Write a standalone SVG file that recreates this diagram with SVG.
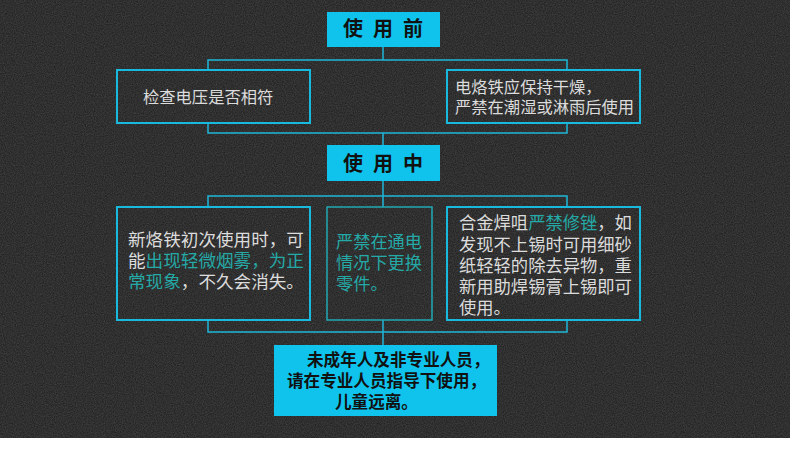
<svg xmlns="http://www.w3.org/2000/svg" width="790" height="449" viewBox="0 0 790 449">
<defs>
<filter id="noise" x="0" y="0" width="100%" height="100%">
<feTurbulence type="fractalNoise" baseFrequency="0.9" numOctaves="2" seed="3" result="t"/>
<feColorMatrix in="t" type="matrix" values="0 0 0 0 0.45  0 0 0 0 0.45  0 0 0 0 0.45  0 0 0 0.3 -0.06"/>
</filter>
<style>
.title{fill:#10c3ec}
.ttxt{font-family:"Noto Sans CJK SC","Noto Sans",sans-serif;font-weight:bold;font-size:20px;letter-spacing:10px;fill:#111}
.box{fill:none;stroke:#18b9dc;stroke-width:2}
.box2{fill:none;stroke:#21a9b4;stroke-width:1.5}
.txt{font-family:"Noto Sans CJK SC","Noto Sans",sans-serif;fill:#dcdcdc}
.hl{fill:#24a9a6}
.btxt{font-family:"Noto Sans CJK SC","Noto Sans",sans-serif;font-size:16.6px;font-weight:bold;fill:#111}
.conn{fill:none;stroke:#1fb6d8;stroke-width:1.5}
</style>
</defs>
<rect x="0" y="0" width="790" height="449" fill="#ffffff"/>
<rect x="0" y="0" width="790" height="438" fill="#232323"/>
<rect x="0" y="0" width="790" height="438" filter="url(#noise)"/>

<g id="connectors">
<path class="conn" d="M383 47V60M208 70V60H567V70"/>
<path class="conn" d="M208 123V133H567V123M383 133V145"/>
<path class="conn" d="M383 181V196M208 207V196H567V207M383 196V207"/>
<path class="conn" d="M208 320V332H567V320M383 320V345"/>
</g>

<g id="before">
<rect class="title" x="327" y="12" width="113" height="35"/>
<text class="ttxt" x="343" y="36">使用前</text>
</g>

<g id="check-voltage">
<rect class="box" x="117" y="70" width="193" height="53"/>
<text class="txt" x="143" y="103" font-size="16.3">检查电压是否相符</text>
</g>

<g id="keep-dry">
<rect class="box" x="447" y="70" width="193" height="53"/>
<text class="txt" font-size="16.3"><tspan x="455" y="93">电烙铁应保持干燥，</tspan><tspan x="455" y="113">严禁在潮湿或淋雨后使用</tspan></text>
</g>

<g id="during">
<rect class="title" x="327" y="145" width="113" height="36"/>
<text class="ttxt" x="343" y="171">使用中</text>
</g>

<g id="smoke">
<rect class="box" x="117" y="207" width="193" height="113"/>
<text class="txt" font-size="17.6"><tspan x="128" y="246">新烙铁初次使用时，可</tspan><tspan x="128" y="267">能<tspan class="hl">出现轻微烟雾，为正</tspan></tspan><tspan x="128" y="288"><tspan class="hl">常现象</tspan>，不久会消失。</tspan></text>
</g>

<g id="no-parts">
<rect class="box2" x="327" y="207" width="105" height="113"/>
<text class="txt hl" font-size="17.2"><tspan x="336" y="248">严禁在通电</tspan><tspan x="336" y="269">情况下更换</tspan><tspan x="336" y="290">零件。</tspan></text>
</g>

<g id="tip">
<rect class="box" x="447" y="207" width="193" height="113"/>
<text class="txt" font-size="17.3"><tspan x="459" y="229">合金焊咀<tspan class="hl">严禁修锉</tspan>，如</tspan><tspan x="459" y="251">发现不上锡时可用细砂</tspan><tspan x="459" y="272">纸轻轻的除去异物，重</tspan><tspan x="459" y="293">新用助焊锡膏上锡即可</tspan><tspan x="459" y="314">使用。</tspan></text>
</g>

<g id="warning">
<rect class="title" x="274" y="345" width="223" height="71"/>
<text class="btxt"><tspan x="307" y="366">未成年人及非专业人员，</tspan><tspan x="287" y="387">请在专业人员指导下使用，</tspan><tspan x="335" y="408">儿童远离。</tspan></text>
</g>
</svg>
